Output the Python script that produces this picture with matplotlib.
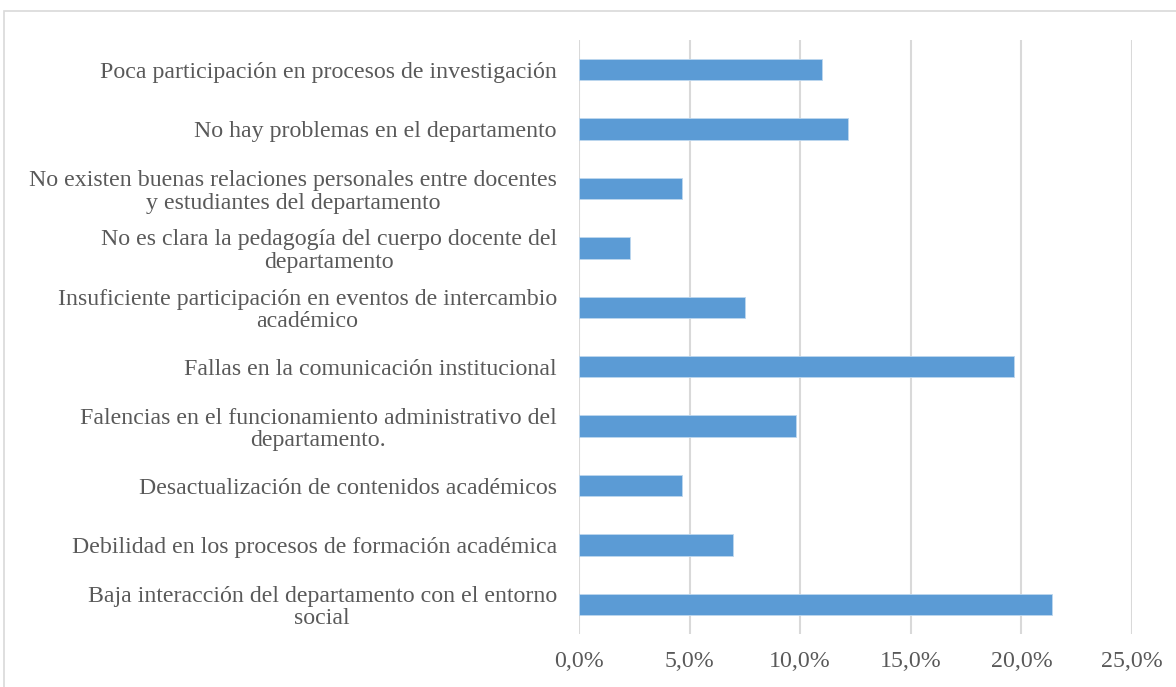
import matplotlib
matplotlib.use("Agg")
import matplotlib.pyplot as plt
from matplotlib.patches import Rectangle
from matplotlib.ticker import FuncFormatter

# ── Data (bottom to top, as drawn) ─────────────────────────────────────────────

CATEGORIES = [
    "Baja interacción del departamento con el entorno\nsocial",
    "Debilidad en los procesos de formación académica",
    "Desactualización de contenidos académicos",
    "Falencias en el funcionamiento administrativo del\ndepartamento.",
    "Fallas en la comunicación institucional",
    "Insuficiente participación en eventos de intercambio\nacadémico",
    "No es clara la pedagogía del cuerpo docente del\ndepartamento",
    "No existen buenas relaciones personales entre docentes\ny estudiantes del departamento",
    "No hay problemas en el departamento",
    "Poca participación en procesos de investigación",
]
VALUES = [0.214, 0.0695, 0.0465, 0.098, 0.1965, 0.075, 0.023, 0.0465, 0.1215, 0.110]
X_TICKS = [0.0, 0.05, 0.10, 0.15, 0.20, 0.25]

BAR_COLOR  = "#5B9BD5"
TEXT_COLOR = "#595959"
GRID_COLOR = "#D9D9D9"

plt.rcParams["font.family"] = ["Liberation Serif", "DejaVu Serif"]

fig = plt.figure(figsize=(11.76, 6.87), dpi=100)
ax = fig.add_axes([579 / 1176, 1 - 634 / 687, (1132 - 579) / 1176, 594 / 687])

# outer chart frame
fig.patches.append(Rectangle((4 / 1176, -0.1), 1.2, 1 - 11 / 687 + 0.1,
                             transform=fig.transFigure, fill=False,
                             edgecolor=GRID_COLOR, linewidth=1.2))

y = range(len(CATEGORIES))
ax.barh(y, VALUES, height=0.36, color=BAR_COLOR, edgecolor="#BDD7EE",
        linewidth=0.6, zorder=3)

ax.set_xlim(0, 0.25)
ax.set_ylim(-0.5, len(CATEGORIES) - 0.5)
ax.set_xticks(X_TICKS)
ax.xaxis.set_major_formatter(FuncFormatter(lambda v, _: f"{v * 100:.1f}%".replace(".", ",")))
ax.set_yticks(list(y))
ax.set_yticklabels(CATEGORIES, multialignment="center", linespacing=1.1)

ax.grid(axis="x", color=GRID_COLOR, linewidth=1.5, zorder=0)
for s in ax.spines.values():
    s.set_visible(False)
ax.tick_params(axis="both", length=0, colors=TEXT_COLOR, labelsize=17.2)
ax.tick_params(axis="y", pad=16)
ax.tick_params(axis="x", pad=12)

fig.savefig("out.png", dpi=100)
